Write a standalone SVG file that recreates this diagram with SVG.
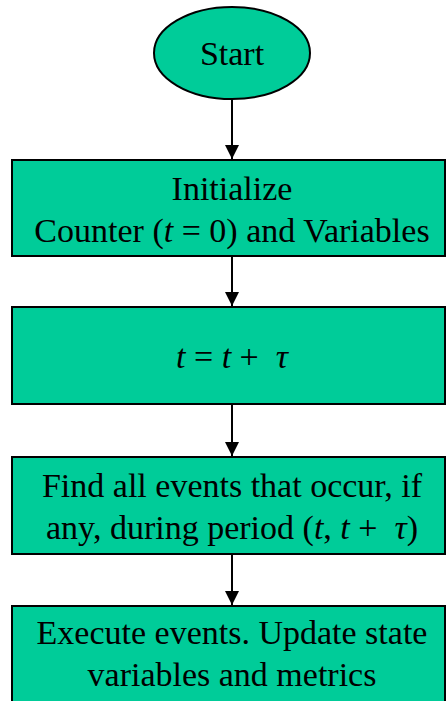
<svg xmlns="http://www.w3.org/2000/svg" width="446" height="701" viewBox="0 0 446 701">
<style>
.n{fill:#00CC99;stroke:#000;stroke-width:2}
.t{font-family:'Times New Roman','Liberation Serif','DejaVu Serif',serif;font-size:34px;fill:#000;text-anchor:middle}
.i{font-style:italic}
.c{stroke:#000;stroke-width:2;fill:none}
</style>
<defs>
<marker id="ah" markerWidth="14" markerHeight="14" refX="14" refY="7" orient="auto" markerUnits="userSpaceOnUse">
<path d="M0,0 L14,7 L0,14 Z" fill="#000"/>
</marker>
</defs>
<rect width="446" height="701" fill="#fff"/>
<g id="connectors">
<line class="c" x1="232" y1="99" x2="232" y2="159" marker-end="url(#ah)"/>
<line class="c" x1="232" y1="257" x2="232" y2="306" marker-end="url(#ah)"/>
<line class="c" x1="232" y1="404" x2="232" y2="456" marker-end="url(#ah)"/>
<line class="c" x1="232" y1="554" x2="232" y2="605" marker-end="url(#ah)"/>
</g>
<g id="start">
<ellipse class="n" cx="232" cy="53" rx="78" ry="46"/>
<text class="t" x="232" y="65">Start</text>
</g>
<g id="init">
<rect class="n" x="12" y="160" width="433" height="96"/>
<text class="t" x="232" y="200">Initialize</text>
<text class="t" x="232" y="242">Counter (<tspan class="i">t</tspan> = 0) and Variables</text>
</g>
<g id="advance">
<rect class="n" x="12" y="307" width="433" height="97"/>
<text class="t" x="232" y="368" xml:space="preserve"><tspan class="i">t</tspan> = <tspan class="i">t</tspan> +  <tspan class="i">τ</tspan></text>
</g>
<g id="find">
<rect class="n" x="12" y="457" width="433" height="97"/>
<text class="t" x="232" y="497">Find all events that occur, if</text>
<text class="t" x="232" y="539" xml:space="preserve">any, during period (<tspan class="i">t</tspan>, <tspan class="i">t</tspan> +  <tspan class="i">τ</tspan>)</text>
</g>
<g id="execute">
<rect class="n" x="12" y="606" width="433" height="110"/>
<text class="t" x="232" y="644">Execute events. Update state</text>
<text class="t" x="232" y="686">variables and metrics</text>
</g>
</svg>
